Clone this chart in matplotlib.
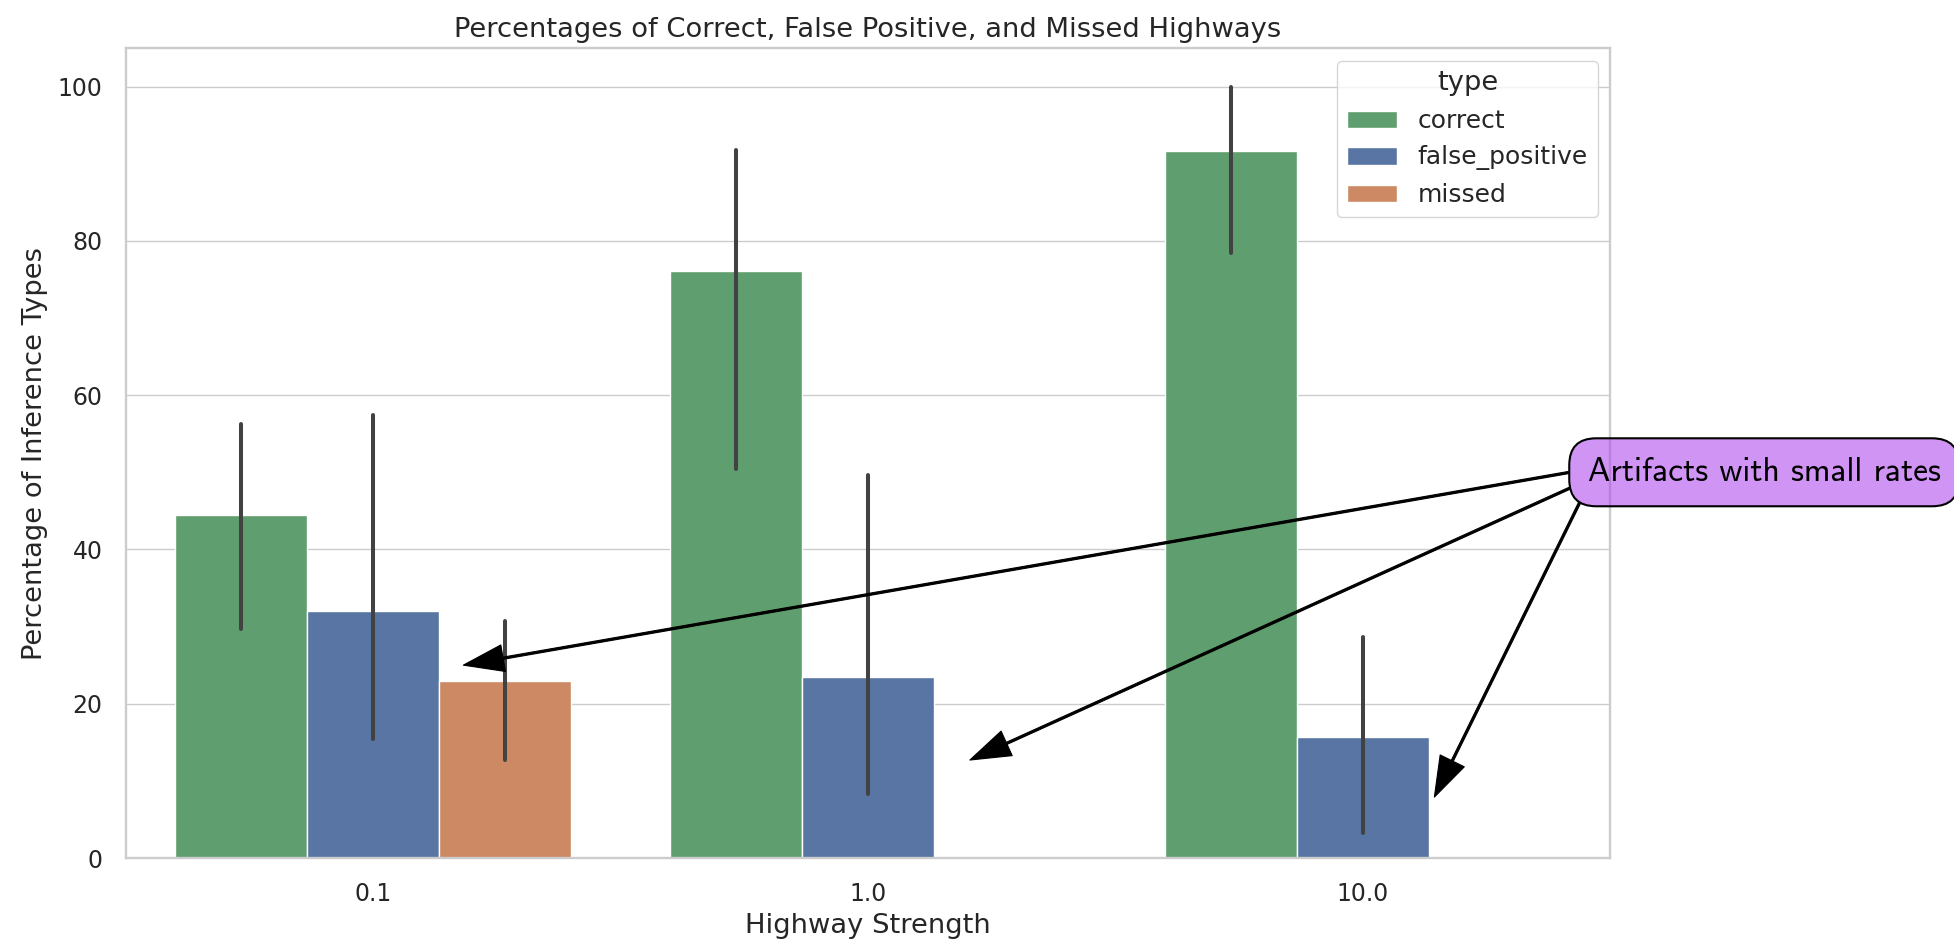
import numpy as np
import matplotlib
matplotlib.use("Agg")
import matplotlib.pyplot as plt
import seaborn as sns

# ---- data ----
strengths = ["0.1", "1.0", "10.0"]
types = ["correct", "false_positive", "missed"]
correct_mean = [44.4, 76.1, 91.6]
correct_lo = [29.7, 50.4, 78.4]
correct_hi = [56.2, 91.8, 100.0]
fp_mean = [32.0, 23.5, 15.7]
fp_lo = [15.4, 8.3, 3.2]
fp_hi = [57.4, 49.7, 28.7]
missed_mean = [22.9, np.nan, np.nan]
missed_lo = [12.7, np.nan, np.nan]
missed_hi = [30.7, np.nan, np.nan]

sns.set_theme(style="whitegrid")
plt.rcParams["font.family"] = ["DejaVu Sans"]

W, H = 1954, 944
fig = plt.figure(figsize=(W / 100, H / 100), dpi=100)
ax = fig.add_axes([126 / W, 1 - 858 / H, (1610 - 126) / W, (858 - 48) / H])

deep = sns.color_palette("deep")
colors = [sns.desaturate(deep[2], 0.75), sns.desaturate(deep[0], 0.75),
          sns.desaturate(deep[1], 0.75)]
means = [correct_mean, fp_mean, missed_mean]
los = [correct_lo, fp_lo, missed_lo]
his = [correct_hi, fp_hi, missed_hi]

x = np.arange(len(strengths))
width = 0.8 / len(types)
for i, t in enumerate(types):
    off = (i - 1) * width
    ax.bar(x + off, means[i], width, color=colors[i], edgecolor="white",
           linewidth=1, label=t, zorder=2)
    ax.vlines(x + off, los[i], his[i], color="#424242", lw=2.9,
              capstyle="round", zorder=3)

ax.set_xlim(-0.5, 2.5)
ax.set_ylim(0, 105)
ax.set_xticks(x)
ax.set_xticklabels(strengths)
ax.set_yticks([0, 20, 40, 60, 80, 100])
ax.grid(axis="x", visible=False)
ax.tick_params(axis="both", length=0, pad=17, labelsize=17, colors="#262626")
for s in ax.spines.values():
    s.set_color("#cccccc")
    s.set_linewidth(1.7)

ax.set_xlabel("Highway Strength", fontsize=19.7, color="#262626", labelpad=5)
ax.set_ylabel("Percentage of Inference Types", fontsize=19.7, color="#262626",
              labelpad=7)
ax.set_title("Percentages of Correct, False Positive, and Missed Highways",
             fontsize=19.7, color="#262626", pad=8)

leg = ax.legend(title="type", loc="upper right", fontsize=18, title_fontsize=19.7,
                labelspacing=0.5)
for txt in leg.get_texts():
    txt.set_color("#262626")
leg.get_title().set_color("#262626")

# ---- annotation ----
note_text = "Artifacts with small rates"
note_pos = (2.455, 50.0)
targets = [(0.182, 25.0), (1.206, 12.7), (2.145, 7.9)]
arrow_relpos = [(0.0, 0.6), (0.0, 0.25), (0.0, 0.05)]
box_fc = (0.67, 0.24, 0.92, 0.55)
fs_note = 24.2
for k, (tgt, rp) in enumerate(zip(targets, arrow_relpos)):
    visible = k == 0
    ax.annotate(
        note_text, xy=tgt, xytext=note_pos, xycoords="data", textcoords="data",
        ha="left", va="center", fontsize=fs_note, family="cmss10",
        color="black" if visible else "none",
        bbox=dict(boxstyle="round,pad=0.55,rounding_size=0.8",
                  fc=box_fc if visible else "none",
                  ec="black" if visible else "none", lw=1.5),
        arrowprops=dict(arrowstyle="simple,head_length=1.2,head_width=0.8,tail_width=0.065",
                        fc="black", ec="black", lw=0.8, relpos=rp,
                        shrinkA=0, shrinkB=0, mutation_scale=fs_note),
        annotation_clip=False, zorder=5,
    )

fig.savefig("out.png", dpi=100)
